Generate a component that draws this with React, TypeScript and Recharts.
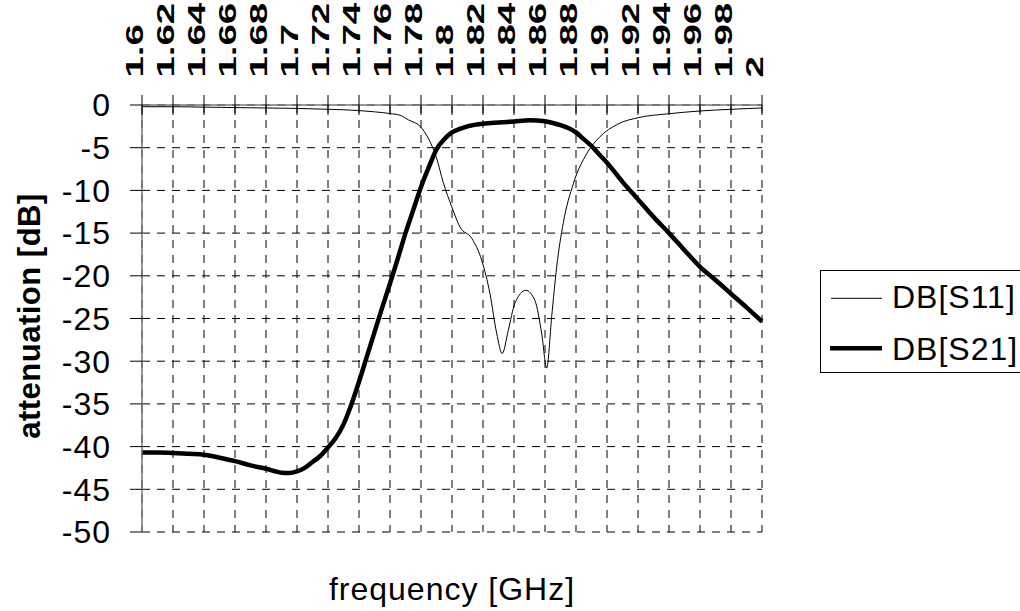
import { LineChart, Line, XAxis, YAxis, CartesianGrid, Legend } from "recharts";

const FONT = "'Liberation Sans', Arial, Helvetica, sans-serif";

// frequency ticks on the top axis [GHz]
const xTicks = [
  1.6, 1.62, 1.64, 1.66, 1.68, 1.7, 1.72, 1.74, 1.76, 1.78, 1.8,
  1.82, 1.84, 1.86, 1.88, 1.9, 1.92, 1.94, 1.96, 1.98, 2,
];
const yTicks = [0, -5, -10, -15, -20, -25, -30, -35, -40, -45, -50];

// DB[S11] - thin trace
const s11Freq = [
  1.6, 1.62, 1.64, 1.66, 1.68, 1.7, 1.72, 1.74, 1.75, 1.76, 1.7665, 1.772,
  1.7794, 1.785, 1.79, 1.7944, 1.7998, 1.8052, 1.8127, 1.8192, 1.8245, 1.8288,
  1.8324, 1.8363, 1.8406, 1.8477, 1.8535, 1.8579, 1.8611, 1.8643, 1.8675,
  1.8718, 1.8783, 1.8869, 1.8955, 1.9063, 1.9213, 1.9385, 1.96, 1.98, 2,
];
const s11Db = [
  -0.2, -0.2, -0.25, -0.3, -0.35, -0.4, -0.5, -0.65, -0.8, -1.0, -1.2, -1.75,
  -2.5, -4.0, -6.2, -9.1, -11.9, -14.3, -15.6, -18.2, -22.1, -26.7,
  -29.1, -26.4, -23.2, -21.7, -22.9, -26.8, -30.8, -24.8, -19.0,
  -13.8, -9.2, -5.7, -3.7, -2.3, -1.44, -1.05, -0.7, -0.5, -0.35,
];

// DB[S21] - thick trace
const s21Freq = [
  1.6, 1.61, 1.62, 1.63, 1.64, 1.65, 1.66, 1.67, 1.68, 1.69, 1.695, 1.7,
  1.705, 1.71, 1.715, 1.72, 1.725, 1.73, 1.735, 1.74, 1.745, 1.75, 1.755,
  1.76, 1.765, 1.77, 1.775, 1.78, 1.785, 1.79, 1.795, 1.8, 1.805, 1.81, 1.82,
  1.83, 1.84, 1.85, 1.86, 1.865, 1.87, 1.875, 1.88, 1.885, 1.89, 1.895, 1.9,
  1.91, 1.92, 1.93, 1.94, 1.95, 1.96, 1.97, 1.98, 1.99, 2,
];
const s21Db = [
  -40.7, -40.7, -40.75, -40.85, -40.95, -41.3, -41.7, -42.2, -42.6, -43.05, -43.1, -42.9,
  -42.5, -41.8, -41.1, -40.1, -39.0, -37.4, -35.1, -32.4, -29.5, -26.6, -23.7,
  -20.9, -18.0, -15.0, -12.3, -9.6, -7.3, -5.2, -4.0, -3.2, -2.8, -2.5, -2.2,
  -2.05, -1.93, -1.8, -1.9, -2.1, -2.35, -2.7, -3.2, -4.0, -4.8, -5.8, -6.75,
  -9.0, -11.05, -13.1, -15.0, -17.0, -18.95, -20.5, -22.1, -23.7, -25.35,
];

const s11 = s11Freq.map((f, i) => ({ f, db: s11Db[i] }));
const s21 = s21Freq.map((f, i) => ({ f, db: s21Db[i] }));

function FreqTick({ x, y, payload }: any) {
  return (
    <g>
      <line x1={x} x2={x} y1={y - 10} y2={y + 10} stroke="#000" />
      <g transform={`translate(${x + 1}, ${y - 27.5}) rotate(-90) scale(1.6, 1)`}>
        <text x={0} y={0} fontSize={24} fontWeight="bold" fontFamily={FONT} fill="#000">
          {String(payload.value)}
        </text>
      </g>
    </g>
  );
}

function YTitle() {
  return (
    <text
      x={40}
      y={316}
      transform="rotate(-90, 40, 316)"
      textAnchor="middle"
      fontSize={31}
      fontWeight="bold"
      fontFamily={FONT}
      letterSpacing={0.5}
      fill="#000"
    >
      attenuation [dB]
    </text>
  );
}

function LegendBox() {
  return (
    <svg width={210} height={103} style={{ display: "block" }}>
      <rect x={0.5} y={0.5} width={209} height={102} fill="#fff" stroke="#000" />
      <line x1={11} x2={62} y1={28.3} y2={28.3} stroke="#000" strokeWidth={1} />
      <text x={72} y={37.5} fontSize={32} fontFamily={FONT} letterSpacing={1} fill="#000">
        DB[S11]
      </text>
      <line x1={10} x2={62} y1={78.3} y2={78.3} stroke="#000" strokeWidth={4.5} />
      <text x={72} y={89.5} fontSize={32} fontFamily={FONT} letterSpacing={1} fill="#000">
        DB[S21]
      </text>
    </svg>
  );
}

export default function App() {
  return (
    <div
      style={{
        position: "absolute",
        left: 0,
        top: 0,
        width: 1020,
        height: 611,
        overflow: "hidden",
        background: "#fff",
        fontFamily: FONT,
      }}
    >
      <LineChart width={1020} height={611} margin={{ top: 0, right: 258, bottom: 0, left: 0 }}>
        <CartesianGrid stroke="#000" strokeDasharray="8 7" />
        <XAxis
          dataKey="f"
          type="number"
          orientation="top"
          domain={[1.6, 2]}
          ticks={xTicks}
          interval={0}
          height={105}
          tickSize={0}
          tickMargin={0}
          tickLine={false}
          tick={<FreqTick />}
          axisLine={{ stroke: "#777", strokeWidth: 1.5 }}
        />
        <XAxis
          xAxisId="lbl"
          type="number"
          orientation="bottom"
          domain={[1.6, 2]}
          height={79}
          tick={false}
          tickLine={false}
          axisLine={false}
          label={{
            value: "frequency [GHz]",
            position: "insideBottom",
            offset: 11,
            fontSize: 32,
            fill: "#000",
            fontFamily: FONT,
            letterSpacing: 1,
          }}
        />
        <YAxis
          type="number"
          domain={[-50, 0]}
          ticks={yTicks}
          interval={0}
          width={142}
          tickSize={12}
          tickMargin={19}
          tick={{ fontSize: 32, fill: "#000", fontFamily: FONT, letterSpacing: 1 }}
          tickLine={{ stroke: "#000" }}
          axisLine={{ stroke: "#777", strokeWidth: 1.5 }}
          label={<YTitle />}
        />
        <Legend
          layout="vertical"
          align="center"
          verticalAlign="middle"
          wrapperStyle={{ left: 820, top: 270, width: 210, height: 103 }}
          content={() => <LegendBox />}
        />
        <Line
          data={s11}
          dataKey="db"
          name="DB[S11]"
          type="monotone"
          stroke="#000"
          strokeWidth={1}
          dot={false}
          isAnimationActive={false}
        />
        <Line
          data={s21}
          dataKey="db"
          name="DB[S21]"
          type="monotone"
          stroke="#000"
          strokeWidth={4.5}
          dot={false}
          isAnimationActive={false}
        />
      </LineChart>
    </div>
  );
}
